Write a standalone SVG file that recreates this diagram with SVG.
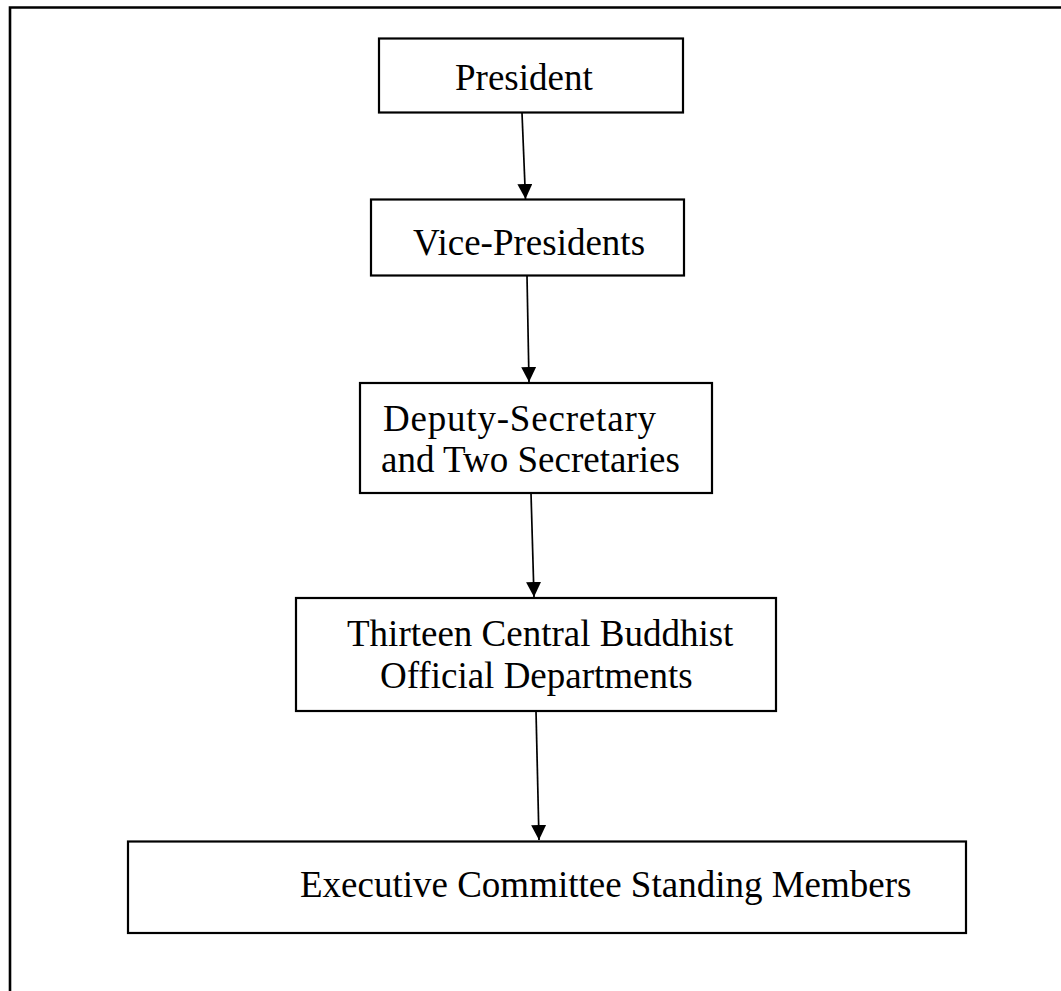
<svg xmlns="http://www.w3.org/2000/svg" width="1061" height="991" viewBox="0 0 1061 991">
  <style>
    .box { fill: #ffffff; stroke: #000000; stroke-width: 2.2; }
    .label { font-family: "Liberation Serif", "Times New Roman", serif; font-size: 37px; fill: #000000; }
    .link { stroke: #000000; stroke-width: 1.7; fill: none; marker-end: url(#arrow); }
  </style>
  <defs>
    <marker id="arrow" markerUnits="userSpaceOnUse" markerWidth="16" markerHeight="16" refX="15" refY="7.5" orient="auto">
      <path d="M0,0 L15,7.5 L0,15 Z" fill="#000000"/>
    </marker>
  </defs>

  <rect width="1061" height="991" fill="#ffffff"/>
  <!-- page frame -->
  <path d="M10,991 V7.5 H1061" fill="none" stroke="#000000" stroke-width="2.6"/>

  <g id="connectors">
    <line class="link" x1="522" y1="113" x2="525.5" y2="199"/>
    <line class="link" x1="527" y1="276" x2="529" y2="382"/>
    <line class="link" x1="531" y1="493" x2="534" y2="597"/>
    <line class="link" x1="536" y1="711" x2="539" y2="840"/>
  </g>

  <g id="president">
    <rect class="box" x="379" y="38.5" width="304" height="74"/>
    <text class="label" x="455" y="90">President</text>
  </g>

  <g id="vice-presidents">
    <rect class="box" x="371" y="199.5" width="313" height="76"/>
    <text class="label" x="413" y="255">Vice-Presidents</text>
  </g>

  <g id="deputy-secretary">
    <rect class="box" x="360" y="383" width="352" height="110"/>
    <text class="label" x="383" y="431" textLength="273" lengthAdjust="spacing">Deputy-Secretary</text>
    <text class="label" x="381" y="472">and Two Secretaries</text>
  </g>

  <g id="central-departments">
    <rect class="box" x="296" y="598" width="480" height="113"/>
    <text class="label" x="347" y="646">Thirteen Central Buddhist</text>
    <text class="label" x="380" y="688">Official Departments</text>
  </g>

  <g id="executive-committee">
    <rect class="box" x="128" y="841.5" width="838" height="91.5"/>
    <text class="label" x="300" y="897">Executive Committee Standing Members</text>
  </g>
</svg>
